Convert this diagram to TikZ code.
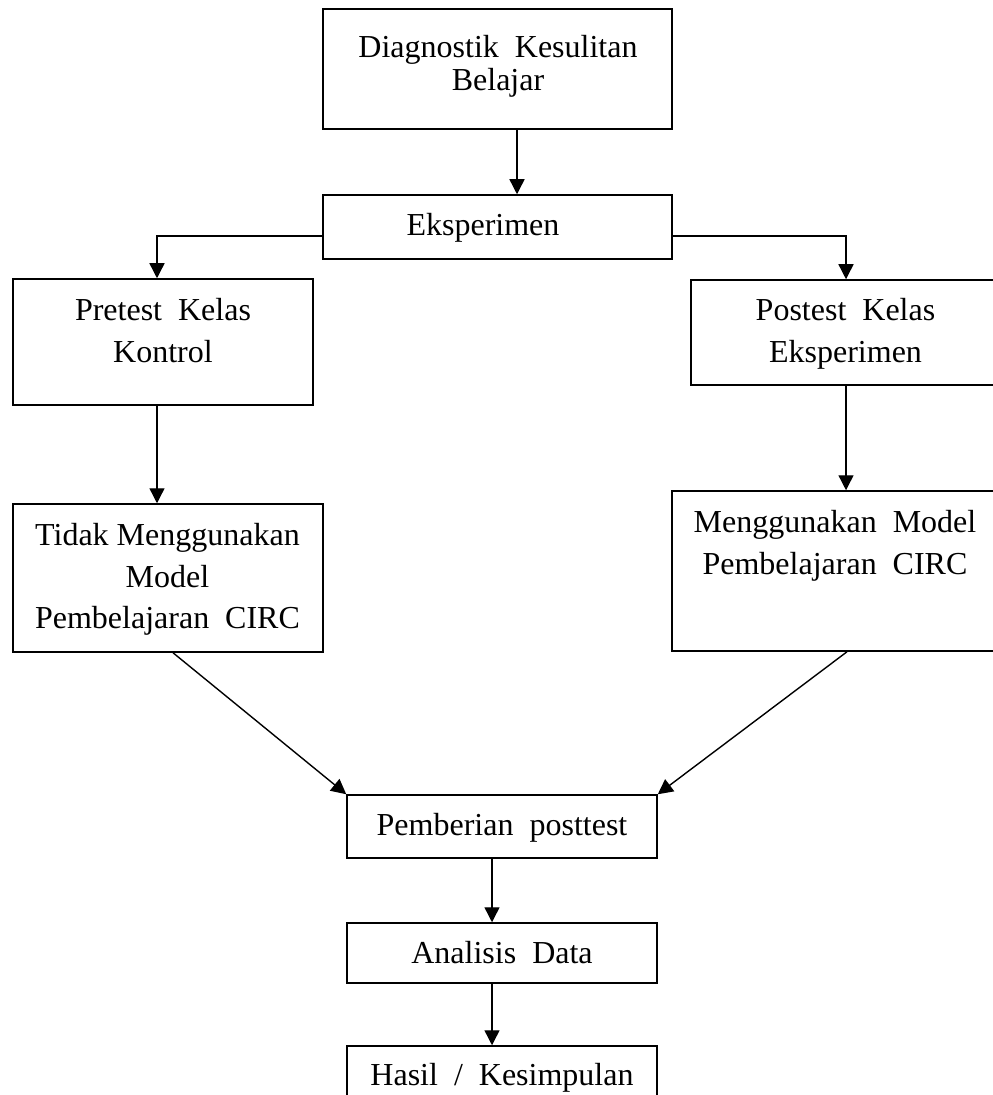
\documentclass[tikz,border=0pt]{standalone}
\usepackage{fontspec}
\setmainfont{Liberation Serif}
\usetikzlibrary{arrows.meta}

\begin{document}
\begin{tikzpicture}[x=0.5pt,y=-0.5pt,
    box/.style={draw, line width=0.75pt, inner sep=0pt, minimum width=155pt},
    txt/.style={inner sep=0pt, align=center, font=\fontsize{16}{20.75}\selectfont},
    arr/.style={line width=0.7pt, -{Triangle[length=7.5pt,width=7.5pt]}}]
    \useasboundingbox (0,0) rectangle (992,1095);
    % boxes
    \node [box, minimum width=174.5pt, minimum height=60pt] (diag) at (497.5,69) {};
    \node [box, minimum width=174.5pt, minimum height=32pt] (eksp) at (497.5,227) {};
    \node [box, minimum width=150pt, minimum height=63pt] (pre) at (163,342) {};
    \node [box, minimum height=52.5pt] (post) at (846,332.5) {};
    \node [box, minimum height=74pt] (tidak) at (168,578) {};
    \node [box, minimum width=175pt, minimum height=80pt] (meng) at (847,571) {};
    \node [box, minimum height=31.5pt] (pemb) at (502,826.5) {};
    \node [box, minimum height=30pt] (ana) at (502,953) {};
    \node [box, minimum height=32pt] (hasil) at (502,1078) {};
    % texts
    \node [txt, font=\fontsize{16}{16.5}\selectfont, anchor=north] (diagT) at (498,35) {Diagnostik\ \ Kesulitan\\Belajar};
    \node [txt, anchor=base] (ekspT) at (483,236) {Eksperimen};
    \node [txt, anchor=north] (preT) at (163,298) {Pretest\ \ Kelas\\Kontrol};
    \node [txt, anchor=north] (postT) at (845.5,298) {Postest\ \ Kelas\\Eksperimen};
    \node [txt, anchor=north] (tidakT) at (167.5,523) {Tidak Menggunakan\\Model\\Pembelajaran\ \ CIRC};
    \node [txt, anchor=north] (mengT) at (835,510) {Menggunakan\ \ Model\\Pembelajaran\ \ CIRC};
    \node [txt, anchor=base] (pembT) at (502,835) {Pemberian\ \ posttest};
    \node [txt, anchor=base] (anaT) at (502,963) {Analisis\ \ Data};
    \node [txt, anchor=base] (hasilT) at (502,1085) {Hasil\ \ /\ \ Kesimpulan};
    % connectors
    \draw [arr] ([xshift=9.75pt]diag.south) -- ([xshift=9.75pt]diag.south |- eksp.north);
    \draw [arr] ([yshift=-4.5pt]eksp.west) -| ([xshift=-3pt]pre.north);
    \draw [arr] ([yshift=-4.5pt]eksp.east) -| (post.north);
    \draw [arr] ([xshift=-3pt]pre.south) -- ([xshift=-3pt]pre.south |- tidak.north);
    \draw [arr] (post.south) -- (post.south |- meng.north);
    \draw [arr] ([xshift=2.5pt]tidak.south) -- (pemb.north west);
    \draw [arr] (meng.south) -- (pemb.north east);
    \draw [arr] ([xshift=-5pt]pemb.south) -- ([xshift=-5pt]pemb.south |- ana.north);
    \draw [arr] ([xshift=-5pt]ana.south) -- ([xshift=-5pt]ana.south |- hasil.north);
\end{tikzpicture}
\end{document}
